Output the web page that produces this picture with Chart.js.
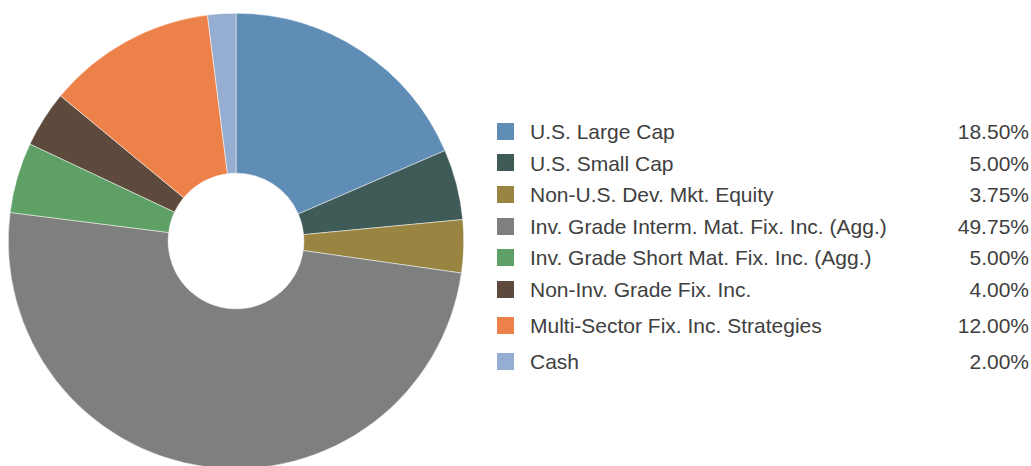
<!DOCTYPE html>
<html>
<head>
<meta charset="utf-8">
<script src="https://cdn.jsdelivr.net/npm/chart.js@4/dist/chart.umd.min.js"></script>
<style>
  html, body { margin: 0; padding: 0; background: #fff; overflow: hidden; }
  body { width: 1031px; height: 466px; position: relative; }
  #wrap { position: absolute; left: 0; top: 0; width: 472px; height: 482px; }
  #legend {
    position: absolute; left: 497px; top: 116px; width: 534px;
    font-family: "Liberation Sans", Arial, sans-serif; font-size: 21px; color: #404040;
  }
  .row { position: relative; height: 31.6px; line-height: 31.6px; }
  .row.tall { height: 36px; line-height: 36px; top: 2px; }
  .box { position: absolute; left: 0; top: 50%; width: 17px; height: 17px; margin-top: -9px; }
  .lbl { position: absolute; left: 33px; }
  .pct { position: absolute; right: 2px; }
</style>
</head>
<body>
<div id="wrap"><canvas id="chartAlokasi"></canvas></div>
<div id="legend"></div>
<script>
// Data alokasi
const kategori = [
  'U.S. Large Cap',
  'U.S. Small Cap',
  'Non-U.S. Dev. Mkt. Equity',
  'Inv. Grade Interm. Mat. Fix. Inc. (Agg.)',
  'Inv. Grade Short Mat. Fix. Inc. (Agg.)',
  'Non-Inv. Grade Fix. Inc.',
  'Multi-Sector Fix. Inc. Strategies',
  'Cash'
];
const persen = [18.5, 5.0, 3.75, 49.75, 5.0, 4.0, 12.0, 2.0];
const warna = ['#5F8DB5', '#3F5B58', '#9A8441', '#7F7F7F', '#5EA065', '#5E4A3C', '#EC814A', '#94ADD0'];

// Legend manual di sebelah kanan
const legendEl = document.getElementById('legend');
kategori.forEach((k, i) => {
  const row = document.createElement('div');
  row.className = 'row' + (i >= 6 ? ' tall' : '');
  row.innerHTML = `<span class="box" style="background:${warna[i]}"></span>` +
    `<span class="lbl">${k}</span><span class="pct">${persen[i].toFixed(2)}%</span>`;
  legendEl.appendChild(row);
});

const ctx = document.getElementById('chartAlokasi').getContext('2d');
new Chart(ctx, {
  type: 'doughnut',
  data: {
    labels: kategori,
    datasets: [{
      data: persen,
      backgroundColor: warna,
      borderColor: '#ffffff',
      borderWidth: 0.5
    }]
  },
  options: {
    responsive: true,
    maintainAspectRatio: false,
    animation: false,
    cutout: '29.8%',
    layout: { padding: { left: 8, top: 13, right: 8, bottom: 13 } },
    plugins: {
      legend: { display: false },
      tooltip: { enabled: false }
    }
  }
});
</script>
</body>
</html>
